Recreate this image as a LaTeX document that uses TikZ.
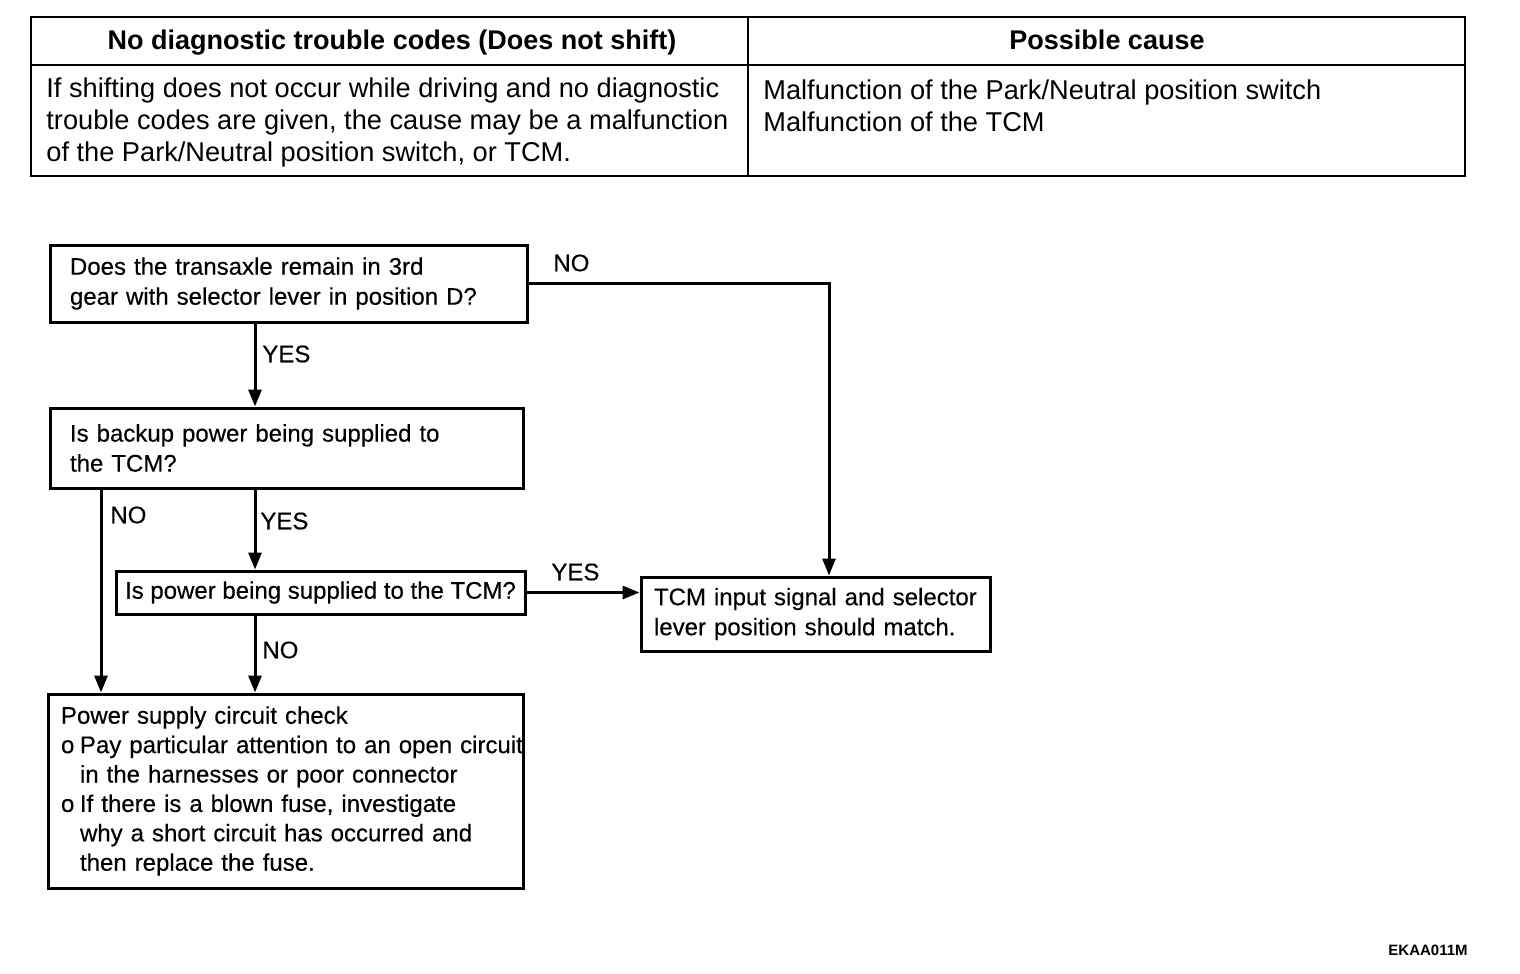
\documentclass[tikz,border=0pt]{standalone}
\usepackage{fontspec}
\setmainfont{Liberation Sans}
\newfontfamily\heavyfont[FakeBold=0.35]{Liberation Sans}
\usetikzlibrary{arrows.meta}
\begin{document}
\begin{tikzpicture}[x=0.5pt,y=-0.5pt,
  tline/.style={line width=1pt},
  fbox/.style={draw, line width=1.5pt, align=left, font=\heavyfont\fontsize{12}{15}\selectfont, inner ysep=0pt},
  conn/.style={line width=1.5pt, -{Triangle[length=8.5pt,width=6.5pt]}},
  lbl/.style={anchor=west, font=\heavyfont\fontsize{12}{15}\selectfont, inner sep=0pt},
  cell/.style={anchor=west, align=left, inner sep=0pt, font=\fontsize{13.6}{16}\selectfont},
  head/.style={anchor=base, inner sep=0pt, font=\bfseries\fontsize{13.5}{16}\selectfont}]
\useasboundingbox (0,0) rectangle (1520,974);
% table
\draw[tline] (31,17) rectangle (1465,176);
\draw[tline] (31,65) -- (1465,65);
\draw[tline] (748,17) -- (748,176);
\node[head] (h1) at (392,50) {No diagnostic trouble codes (Does not shift)};
\node[head] (h2) at (1107,50) {Possible cause};
\node[cell] (c1) at (46,122) {If shifting does not occur while driving and no diagnostic\\trouble codes are given, the cause may be a malfunction\\of the Park/Neutral position switch, or TCM.};
\node[cell] (c2) at (763,105.5) {Malfunction of the Park/Neutral position switch\\Malfunction of the TCM};
% flowchart boxes
\node[fbox, minimum width=238.5pt, minimum height=38.5pt, inner xsep=10pt, text width=218.5pt] (b1) at (288.5,283.5) {\mbox{Does the transaxle remain in 3rd}\\\mbox{gear with selector lever in position D?}};
\node[fbox, minimum width=236.5pt, minimum height=40pt, inner xsep=10pt, text width=216.5pt] (b2) at (286.5,448) {\mbox{Is backup power being supplied to}\\\mbox{the TCM?}};
\node[fbox, minimum width=204.5pt, minimum height=21.5pt, inner xsep=3pt, align=center] (b3) at (320.5,592.5) {Is power being supplied to the TCM?};
\node[fbox, minimum width=237.5pt, minimum height=97pt, inner xsep=6.5pt, text width=224.5pt, font=\heavyfont\fontsize{12}{14.7}\selectfont] (b4) at (285.5,791) {\mbox{Power supply circuit check}\\\mbox{\makebox[9.5pt][l]{o}Pay particular attention to an open circuit}\\\mbox{\hspace*{9.5pt}in the harnesses or poor connector}\\\mbox{\makebox[9.5pt][l]{o}If there is a blown fuse, investigate}\\\mbox{\hspace*{9.5pt}why a short circuit has occurred and}\\\mbox{\hspace*{9.5pt}then replace the fuse.}};
\node[fbox, minimum width=174.5pt, minimum height=37pt, inner xsep=6.5pt, text width=161.5pt] (b5) at (815.5,614) {\mbox{TCM input signal and selector}\\\mbox{lever position should match.}};
% columns
\coordinate (colA) at (255,0);
\coordinate (colB) at (101,0);
\coordinate (colC) at (829,0);
% connectors
\draw[conn] (b1.east) -| (b5.north -| colC);
\draw[conn] (b1.south -| colA) -- (b2.north -| colA);
\draw[conn] (b2.south -| colA) -- (b3.north -| colA);
\draw[conn] (b2.south -| colB) -- (b4.north -| colB);
\draw[conn] (b3.east) -- (b5.west |- b3.east);
\draw[conn] (b3.south -| colA) -- (b4.north -| colA);
% labels
\node[lbl] (l1) at (553,263) {NO};
\node[lbl] (l2) at (262,354) {YES};
\node[lbl] (l3) at (110,515) {NO};
\node[lbl] (l4) at (260,521) {YES};
\node[lbl] (l5) at (551,572) {YES};
\node[lbl] (l6) at (262,650) {NO};
\node[anchor=west, inner sep=0pt, font=\bfseries\fontsize{7.5}{9}\selectfont] (code) at (1388,950) {EKAA011M};
\end{tikzpicture}
\end{document}
